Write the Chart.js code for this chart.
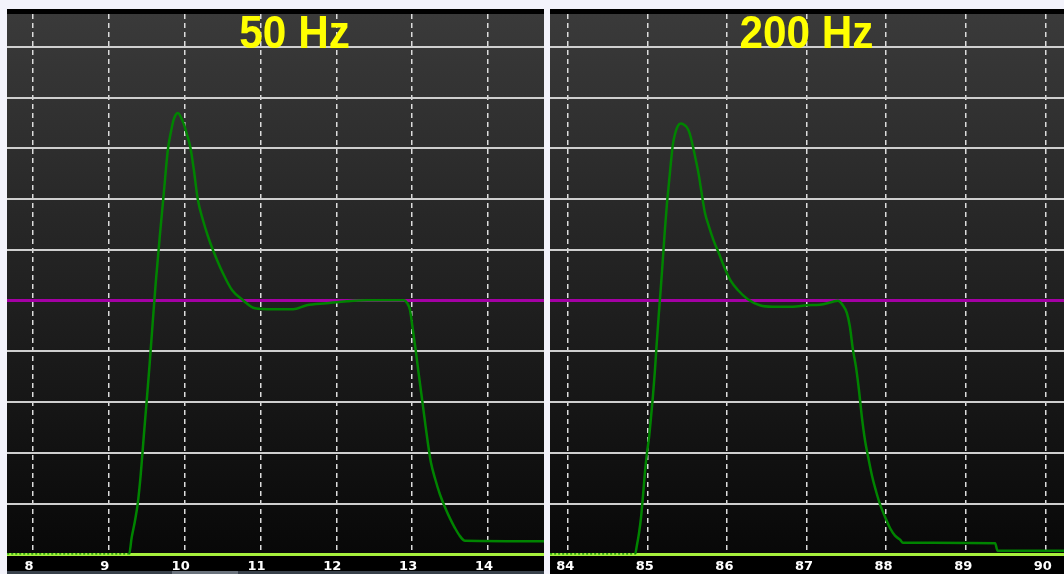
<!DOCTYPE html>
<html>
<head>
<meta charset="utf-8">
<script src="https://cdn.jsdelivr.net/npm/chart.js@4.4.1/dist/chart.umd.min.js"></script>
<style>
  html, body { margin: 0; padding: 0; background: #f3f3fb; overflow: hidden; }
  .panel { position: absolute; top: 9px; height: 565px; background: #000; }
  #p50 { left: 7px; width: 537px; }
  #p200 { left: 550px; width: 514px; }
  #scroll { position: absolute; left: 7px; top: 571px; width: 537px; height: 3px; background: #39414b; }
  #thumb { position: absolute; left: 165px; top: 0; width: 66px; height: 3px; background: #6b737d; }
</style>
</head>
<body>
<div class="panel" id="p50"><canvas id="c50"></canvas></div>
<div class="panel" id="p200"><canvas id="c200"></canvas></div>
<div id="scroll"><div id="thumb"></div></div>
<script>
// grid / threshold
const limit = 5;
const yTicks = [1, 2, 3, 4, 5, 6, 7, 8, 9, 10];
const ticks50 = [8, 9, 10, 11, 12, 13, 14];
const ticks200 = [84, 85, 86, 87, 88, 89, 90];

// 50 Hz trace
const x50 = [7.66, 9.267, 9.302, 9.342, 9.382, 9.421, 9.461, 9.500, 9.540, 9.579, 9.619, 9.672, 9.725,
  9.778, 9.818, 9.857, 9.896, 9.916, 9.949, 9.989, 10.028, 10.077, 10.121, 10.173, 10.241, 10.307,
  10.373, 10.505, 10.624, 10.769, 10.927, 11.16, 11.43, 11.61, 11.87, 12.14, 12.40, 12.892, 12.931,
  12.971, 13.010, 13.050, 13.089, 13.129, 13.169, 13.208, 13.248, 13.301, 13.367, 13.433, 13.499,
  13.565, 13.631, 13.697, 14.74];
const y50 = [0, 0, 0.34, 0.64, 1.01, 1.58, 2.33, 3.04, 3.79, 4.58, 5.36, 6.27, 7.12,
  7.97, 8.32, 8.58, 8.69, 8.70, 8.62, 8.48, 8.29, 8.01, 7.58, 7.00, 6.59, 6.27,
  6.00, 5.54, 5.21, 5.01, 4.85, 4.83, 4.83, 4.91, 4.95, 4.99, 5.01, 5.01, 4.96,
  4.82, 4.42, 3.99, 3.53, 3.08, 2.62, 2.19, 1.81, 1.50, 1.18, 0.93, 0.71,
  0.52, 0.36, 0.27, 0.26];

// 200 Hz trace
const x200 = [83.78, 84.845, 84.871, 84.896, 84.921, 84.946, 84.971, 84.996, 85.021, 85.046, 85.071,
  85.095, 85.120, 85.145, 85.170, 85.195, 85.221, 85.246, 85.271, 85.296, 85.321, 85.346, 85.383,
  85.421, 85.459, 85.496, 85.534, 85.572, 85.609, 85.647, 85.685, 85.722, 85.773, 85.835, 85.898,
  85.973, 86.049, 86.137, 86.262, 86.413, 86.579, 86.830, 87.005, 87.169, 87.332, 87.394, 87.457,
  87.507, 87.545, 87.584, 87.622, 87.659, 87.697, 87.735, 87.772, 87.823, 87.873, 87.923, 87.986,
  88.049, 88.112, 88.175, 88.212, 89.37, 89.40, 90.24];
const y200 = [0, 0, 0.19, 0.42, 0.72, 1.15, 1.62, 2.00, 2.29, 2.69, 3.12,
  3.60, 4.19, 4.74, 5.25, 5.80, 6.39, 6.89, 7.30, 7.71, 8.07, 8.27, 8.44,
  8.49, 8.47, 8.42, 8.29, 8.05, 7.78, 7.48, 7.10, 6.75, 6.47, 6.18, 5.94,
  5.64, 5.39, 5.21, 5.03, 4.91, 4.88, 4.88, 4.91, 4.92, 4.98, 5.00, 4.91,
  4.76, 4.49, 4.03, 3.69, 3.24, 2.69, 2.25, 1.94, 1.55, 1.25, 0.99, 0.74,
  0.52, 0.37, 0.29, 0.23, 0.22, 0.07, 0.07];

const backdrop = {
  id: 'backdrop',
  beforeDraw(chart) {
    const { ctx, chartArea: a } = chart;
    const g = ctx.createLinearGradient(0, a.top, 0, a.bottom);
    g.addColorStop(0, '#3a3a3a');
    g.addColorStop(1, '#080808');
    ctx.save();
    ctx.fillStyle = g;
    ctx.fillRect(a.left, a.top, a.right - a.left, a.bottom - a.top);
    ctx.restore();
  },
  beforeDatasetsDraw(chart) {
    // lime base line at 0
    const { ctx, chartArea: a, scales: { y } } = chart;
    const py = y.getPixelForValue(0);
    ctx.save();
    ctx.strokeStyle = '#a6f03c';
    ctx.lineWidth = 3;
    ctx.beginPath();
    ctx.moveTo(a.left, py);
    ctx.lineTo(a.right, py);
    ctx.stroke();
    ctx.restore();
  }
};

const hzTitle = {
  id: 'hzTitle',
  afterDatasetsDraw(chart, args, opts) {
    const { ctx, chartArea: a, scales: { x } } = chart;
    ctx.save();
    ctx.font = 'bold 46px "Liberation Sans", Arial, sans-serif';
    ctx.fillStyle = '#ffff00';
    ctx.textAlign = 'center';
    ctx.textBaseline = 'alphabetic';
    ctx.translate(x.getPixelForValue(opts.at), a.top + 34);
    ctx.scale(0.92, 1);
    ctx.fillText(opts.text, 0, 0);
    ctx.restore();
  }
};

function makeChart(id, xs, ys, ticks, min, max, title, titleAt, shift) {
  return new Chart(document.getElementById(id), {
    type: 'line',
    data: {
      datasets: [{
        data: xs.map((v, i) => ({ x: v, y: ys[i] })),
        borderColor: '#008400',
        borderWidth: 2.5,
        pointRadius: 0,
        fill: false,
        cubicInterpolationMode: 'monotone',
        segment: {
          borderDash: c => c.p0DataIndex === 0 ? [2, 2] : undefined
        }
      }]
    },
    options: {
      animation: false,
      responsive: true,
      maintainAspectRatio: false,
      layout: { padding: { top: 5, left: 0, right: 0, bottom: 0 } },
      plugins: {
        legend: { display: false },
        tooltip: { enabled: false },
        hzTitle: { text: title, at: titleAt }
      },
      scales: {
        x: {
          type: 'linear',
          min: min,
          max: max,
          afterBuildTicks: s => { s.ticks = ticks.map(v => ({ value: v })); },
          afterFit: s => { s.height = 19.6; },
          grid: { color: '#dcdcdc', lineWidth: 1.5, drawTicks: false },
          border: { display: false, dash: [5, 4] },
          ticks: {
            color: '#ffffff',
            padding: 4,
            labelOffset: shift,
            maxRotation: 0,
            font: { family: 'DejaVu Sans', size: 13, weight: 'bold' }
          }
        },
        y: {
          min: 0,
          max: 10.65,
          afterBuildTicks: s => { s.ticks = yTicks.map(v => ({ value: v })); },
          grid: {
            color: c => c.tick && c.tick.value === limit ? '#a400a4' : '#cfcfcf',
            lineWidth: c => c.tick && c.tick.value === limit ? 3 : 2,
            drawTicks: false
          },
          border: { display: false },
          ticks: { display: false }
        }
      }
    },
    plugins: [backdrop, hzTitle]
  });
}

makeChart('c50', x50, y50, ticks50, 7.657, 14.739, '50 Hz', 11.45, -4);
makeChart('c200', x200, y200, ticks200, 83.778, 90.235, '200 Hz', 87.0, -2.5);
</script>
</body>
</html>
